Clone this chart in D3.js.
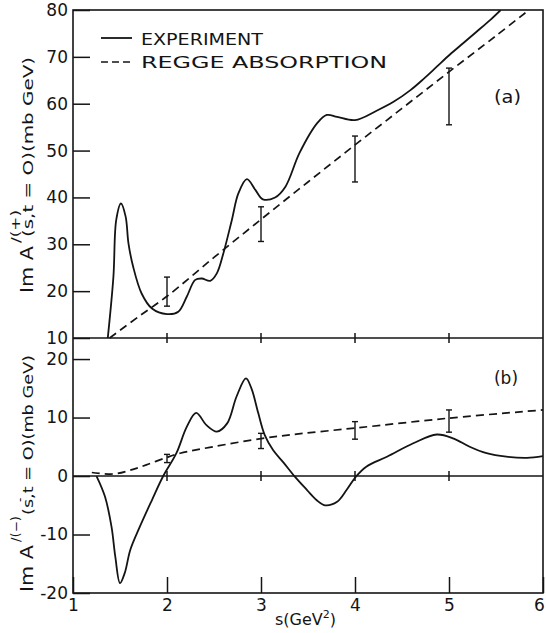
<!DOCTYPE html>
<html>
<head>
<meta charset="utf-8">
<script src="https://cdn.jsdelivr.net/npm/d3@7"></script>
<style>
  html, body { margin: 0; padding: 0; background: #fff; }
  svg { display: block; }
  text { font-family: "DejaVu Sans", sans-serif; fill: #141414; }
</style>
</head>
<body>
<svg id="chart" width="546" height="633"></svg>
<script>
// ---- data: s in GeV^2 ----
// panel (a): Im A'(+)(s, t=0), mb GeV
const expA = [
  [1.37, 10], [1.43, 23.1], [1.46, 35.2], [1.51, 38.7], [1.56, 35.9], [1.59, 30.2],
  [1.64, 25.2], [1.73, 19.5], [1.84, 16.3], [2.00, 15.1], [2.12, 15.6], [2.21, 18.8],
  [2.30, 22.4], [2.37, 22.7], [2.46, 22.2], [2.53, 23.8], [2.60, 28.1], [2.69, 35.2],
  [2.76, 40.9], [2.85, 43.9], [2.94, 41.6], [3.02, 39.6], [3.15, 40.0], [3.26, 42.3],
  [3.41, 49.5], [3.60, 55.9], [3.70, 57.6], [3.81, 57.2], [4.00, 56.5], [4.23, 58.5],
  [4.41, 60.4], [4.59, 62.9], [4.73, 65.3], [4.87, 67.9], [5.01, 70.5], [5.15, 72.9],
  [5.29, 75.3], [5.44, 77.9], [5.55, 80]
];
const reggeA = [
  [1.39, 10], [1.70, 14.6], [2.00, 18.9], [2.50, 27.2], [3.00, 35.3], [3.50, 43.3],
  [4.00, 51.2], [4.50, 59.0], [5.00, 66.8], [5.50, 74.5], [5.85, 80]
];
const errS = [2, 3, 4, 5];
const errLoA = [16.8, 30.6, 43.3, 55.5];
const errHiA = [23.0, 38.0, 53.1, 67.6];

// panel (b): Im A'(-)(s, t=0), mb GeV
const expB = [
  [1.25, 0], [1.34, -3.5], [1.41, -8.7], [1.45, -13.8], [1.50, -18.3], [1.55, -16.6],
  [1.61, -12.6], [1.71, -8.7], [1.84, -4.1], [1.96, 0], [2.10, 3.9], [2.21, 8.4],
  [2.31, 10.8], [2.42, 8.7], [2.53, 7.6], [2.64, 9.0], [2.74, 13.6], [2.84, 16.7],
  [2.90, 14.9], [2.97, 10.8], [3.04, 7.0], [3.13, 4.4], [3.24, 2.3], [3.36, -0.1],
  [3.49, -2.4], [3.59, -4.1], [3.68, -5.0], [3.81, -4.4], [3.91, -2.4], [4.01, -0.1],
  [4.12, 1.6], [4.34, 3.3], [4.62, 5.6], [4.87, 7.1], [5.05, 6.4], [5.22, 5.0],
  [5.40, 3.9], [5.61, 3.3], [5.83, 3.1], [6.00, 3.4]
];
const reggeB = [
  [1.20, 0.6], [1.43, 0.35], [1.61, 1.0], [1.78, 1.9], [2.00, 3.2], [2.14, 3.9],
  [2.49, 5.0], [3.00, 6.4], [3.40, 7.2], [4.00, 8.2], [5.00, 9.9], [6.00, 11.3]
];
const errLoB = [2.3, 4.7, 6.3, 7.5];
const errHiB = [3.7, 7.3, 9.3, 11.3];

const xTicks = [1, 2, 3, 4, 5, 6];
const yTicksA = [10, 20, 30, 40, 50, 60, 70, 80];
const yTicksB = [-20, -10, 0, 10, 20];

// ---- layout ----
const svg = d3.select("#chart");
const ink = "#141414";
const frameL = 73, frameR = 543, frameT = 10, frameMid = 338, frameB = 593;

const x = d3.scaleLinear([1, 6], [frameL, frameR]);
const yA = d3.scaleLinear([10, 80], [frameMid, frameT]);
const yB = d3.scaleLinear([-20, 23.6], [frameB, frameMid]);

const smooth = d3.curveCatmullRom.alpha(0.5);
const lineA = d3.line().x(d => x(d[0])).y(d => yA(d[1])).curve(smooth);
const lineB = d3.line().x(d => x(d[0])).y(d => yB(d[1])).curve(smooth);

// frame and panel divider
svg.append("rect")
  .attr("x", frameL).attr("y", frameT).attr("width", frameR - frameL).attr("height", frameB - frameT)
  .attr("fill", "none").attr("stroke", ink).attr("stroke-width", 1.6);
svg.append("line")
  .attr("x1", frameL).attr("x2", frameR).attr("y1", frameMid).attr("y2", frameMid)
  .attr("stroke", ink).attr("stroke-width", 1.6);

// left axes with inward ticks
function styleAxis(g) {
  g.select(".domain").remove();
  g.selectAll(".tick line").attr("stroke", ink).attr("stroke-width", 1.5);
  g.selectAll(".tick text").attr("font-size", 17).attr("fill", ink)
    .style("font-family", "'DejaVu Sans', sans-serif");
}
svg.append("g").attr("transform", `translate(${frameL},0)`)
  .call(d3.axisLeft(yA).tickValues(yTicksA).tickSizeInner(-17).tickSizeOuter(0)
    .tickPadding(5).tickFormat(d => String(d)))
  .call(styleAxis);
svg.append("g").attr("transform", `translate(${frameL},0)`)
  .call(d3.axisLeft(yB).tickValues(yTicksB).tickSizeInner(-17).tickSizeOuter(0)
    .tickPadding(5).tickFormat(d => String(d)))
  .call(styleAxis);

// bottom axis
const xAxisG = svg.append("g").attr("transform", `translate(0,${frameB})`)
  .call(d3.axisBottom(x).tickValues(xTicks).tickSizeInner(-16).tickSizeOuter(0)
    .tickPadding(6).tickFormat(d => String(d)))
  .call(styleAxis);
// keep the last label inside the page
xAxisG.selectAll(".tick text").filter(d => d === 6).attr("dx", -4);

// zero line in panel (b)
svg.append("line")
  .attr("x1", frameL).attr("x2", frameR).attr("y1", yB(0)).attr("y2", yB(0))
  .attr("stroke", ink).attr("stroke-width", 1.5);

// crossing ticks on the divider and the zero line
const innerTicks = xTicks.slice(1, -1);
[frameMid, yB(0)].forEach(yy => {
  svg.append("g").selectAll("line").data(innerTicks).join("line")
    .attr("x1", d => x(d)).attr("x2", d => x(d))
    .attr("y1", yy - 5).attr("y2", yy + 5)
    .attr("stroke", ink).attr("stroke-width", 1.5);
});

// curves
svg.append("clipPath").attr("id", "plot")
  .append("rect").attr("x", frameL).attr("y", frameT)
  .attr("width", frameR - frameL).attr("height", frameB - frameT);

const curves = svg.append("g").attr("clip-path", "url(#plot)");
curves.append("path").attr("d", lineA(expA))
  .attr("fill", "none").attr("stroke", ink).attr("stroke-width", 1.8);
curves.append("path").attr("d", lineA(reggeA))
  .attr("fill", "none").attr("stroke", ink).attr("stroke-width", 1.7).attr("stroke-dasharray", "8,5");
curves.append("path").attr("d", lineB(expB))
  .attr("fill", "none").attr("stroke", ink).attr("stroke-width", 1.8);
curves.append("path").attr("d", lineB(reggeB))
  .attr("fill", "none").attr("stroke", ink).attr("stroke-width", 1.7).attr("stroke-dasharray", "8,5");

// error bars
function errorBars(lo, hi, y) {
  const g = svg.append("g").attr("stroke", ink).attr("stroke-width", 1.4);
  errS.forEach((s, i) => {
    const cx = x(s);
    g.append("line").attr("x1", cx).attr("x2", cx).attr("y1", y(lo[i])).attr("y2", y(hi[i]));
    g.append("line").attr("x1", cx - 3).attr("x2", cx + 3).attr("y1", y(lo[i])).attr("y2", y(lo[i]));
    g.append("line").attr("x1", cx - 3).attr("x2", cx + 3).attr("y1", y(hi[i])).attr("y2", y(hi[i]));
  });
}
errorBars(errLoA, errHiA, yA);
errorBars(errLoB, errHiB, yB);

// legend
svg.append("line").attr("x1", 101).attr("x2", 132).attr("y1", 38).attr("y2", 38)
  .attr("stroke", ink).attr("stroke-width", 1.8);
svg.append("line").attr("x1", 101).attr("x2", 132).attr("y1", 62).attr("y2", 62)
  .attr("stroke", ink).attr("stroke-width", 1.7).attr("stroke-dasharray", "7,4");
svg.append("text").attr("x", 141).attr("y", 45).attr("font-size", 16)
  .attr("textLength", 122).attr("lengthAdjust", "spacingAndGlyphs").text("EXPERIMENT");
svg.append("text").attr("x", 141).attr("y", 68).attr("font-size", 16)
  .attr("textLength", 246).attr("lengthAdjust", "spacingAndGlyphs").text("REGGE ABSORPTION");

// panel labels
svg.append("text").attr("x", 494).attr("y", 103).attr("font-size", 17)
  .attr("textLength", 27).attr("lengthAdjust", "spacingAndGlyphs").text("(a)");
svg.append("text").attr("x", 494).attr("y", 384).attr("font-size", 17)
  .attr("textLength", 24).attr("lengthAdjust", "spacingAndGlyphs").text("(b)");

// x-axis title
const xt = svg.append("text").attr("x", 275).attr("y", 625).attr("font-size", 16);
xt.append("tspan").text("s(GeV");
xt.append("tspan").attr("font-size", 11).attr("dy", -7).text("2");
xt.append("tspan").attr("dy", 7).text(")");

// y-axis titles (rotated)
function yTitle(baseY, sup, supEnd, bar) {
  const g = svg.append("g").attr("transform", `translate(33,${baseY}) rotate(-90)`);
  g.append("text").attr("x", 0).attr("y", 0).attr("font-size", 17)
    .attr("textLength", 47).attr("lengthAdjust", "spacingAndGlyphs").text("Im A");
  g.append("text").attr("x", 50).attr("y", -13).attr("font-size", 12)
    .attr("textLength", supEnd - 50).attr("lengthAdjust", "spacingAndGlyphs").text(sup);
  if (bar) {
    g.append("text").attr("x", bar).attr("y", -9).attr("font-size", 12).text("-");
  }
  return g;
}
const tA = yTitle(293, "/(+)", 83, null);
tA.append("text").attr("x", 56).attr("y", 0).attr("font-size", 14)
  .attr("textLength", 180).attr("lengthAdjust", "spacingAndGlyphs").text("(s,t = O)(mb  GeV)");
const tB = yTitle(592, "/(\u2212)", 76, 90);
tB.append("text").attr("x", 77).attr("y", 0).attr("font-size", 14)
  .attr("textLength", 160).attr("lengthAdjust", "spacingAndGlyphs").text("(s,t = O)(mb  GeV)");
</script>
</body>
</html>
